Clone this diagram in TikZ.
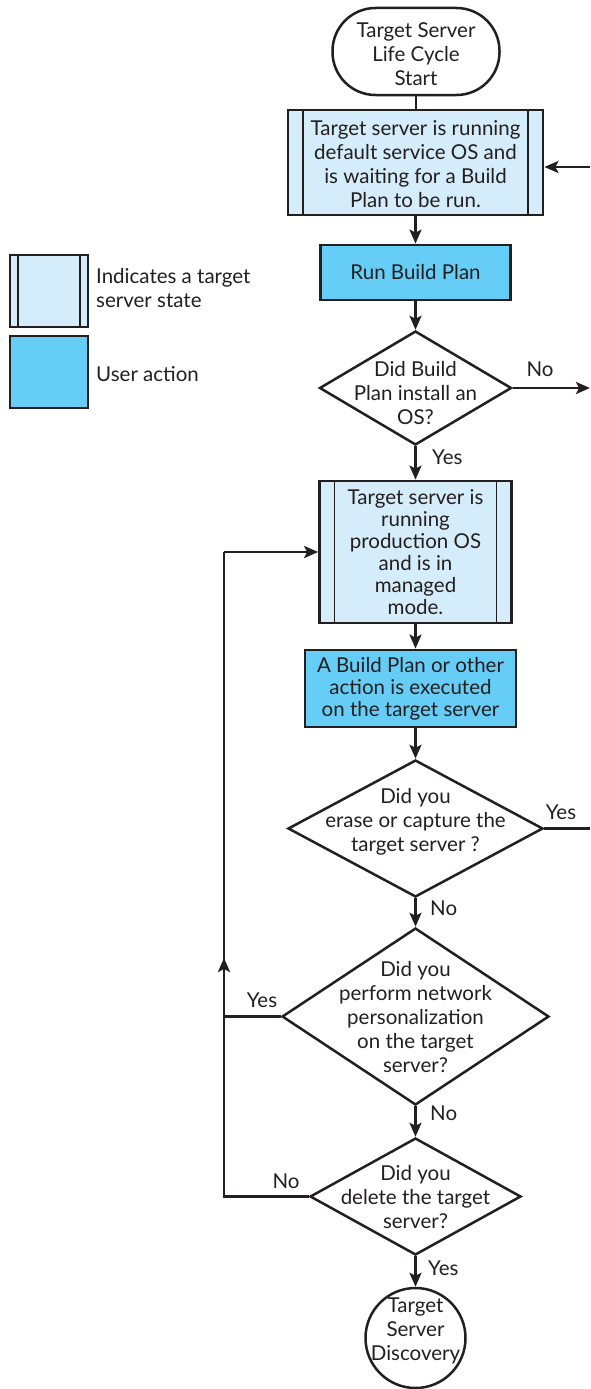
\documentclass[tikz,border=0pt]{standalone}
\usepackage{fontspec}
\setmainfont{Lato}
\usetikzlibrary{arrows.meta,shapes.geometric}
\definecolor{statefill}{HTML}{D5ECFA}
\definecolor{actionfill}{HTML}{66CDF6}
\definecolor{ink}{HTML}{231F20}
\begin{document}
\begin{tikzpicture}[x=1pt,y=-1pt,
  every node/.style={text=ink, font=\fontsize{20.5}{24}\selectfont, inner sep=0pt},
  line/.style={draw=ink, line width=2.5pt},
  arrow/.style={line, -{Stealth[length=14pt,width=12pt,inset=3pt]}},
  terminal/.style={draw=ink, line width=2.5pt, rounded corners=43pt, align=center},
  state/.style={draw=ink, line width=2.8pt, fill=statefill, align=center,
    path picture={\draw[ink, line width=1.3pt]
      ([xshift=#1]path picture bounding box.north west) -- ([xshift=#1]path picture bounding box.south west)
      ([xshift=-#1]path picture bounding box.north east) -- ([xshift=-#1]path picture bounding box.south east);}},
  state/.default=15pt,
  action/.style={draw=ink, line width=2.8pt, fill=actionfill, align=center},
  decision/.style={draw=ink, line width=2.5pt, diamond, inner sep=0pt, shape aspect=1},
  lbl/.style={anchor=west},
  txt/.style={align=center}
]
\useasboundingbox (0,0) rectangle (590,1389);

% legend
\node[state=8pt, minimum width=78pt, minimum height=72pt] (legstate) at (49,291) {};
\node[txt, align=left, anchor=west] (legstatetxt) at (96,288) {Indicates a target\\server state};
\node[action, minimum width=78pt, minimum height=72pt] (legaction) at (49,372) {};
\node[anchor=west] (legactiontxt) at (96,374) {User action};

% start
\node[terminal, minimum width=167pt, minimum height=87pt] (start) at (416,51.5) {};
\node[txt] (starttxt) at (416,54) {Target Server\\Life Cycle\\Start};

% box 1
\node[state, minimum width=255pt, minimum height=105pt] (b1) at (415.5,162.5) {};
\node[txt] (b1txt) at (415.5,164) {Target server is running\\default service OS and\\is waiting for a Build\\Plan to be run.};

% run build plan
\node[action, minimum width=190pt, minimum height=55pt] (run) at (415.5,272.5) {};
\node (runtxt) at (415.5,272) {Run Build Plan};

% decision 1
\node[decision, minimum width=192pt, minimum height=114pt] (d1) at (415.5,388) {};
\node[txt] (d1txt) at (415.5,393) {Did Build\\Plan install an\\OS?};

% box 2
\node[state, minimum width=192pt, minimum height=142pt] (b2) at (415.5,552) {};
\node[txt, font=\fontsize{20.5}{22}\selectfont] (b2txt) at (415.5,552) {Target server is\\running\\production OS\\and is in\\managed\\mode.};

% box 3
\node[action, minimum width=211pt, minimum height=77pt] (b3) at (410.5,688.5) {};
\node[txt, font=\fontsize{20.5}{22}\selectfont] (b3txt) at (410.5,689) {A Build Plan or other\\action is executed\\on the target server};

% decision 2
\node[decision, minimum width=255pt, minimum height=137pt] (d2) at (415.5,828.5) {};
\node[txt] (d2txt) at (415.5,822) {Did you\\erase or capture the\\target server ?};

% decision 3
\node[decision, minimum width=267pt, minimum height=177pt] (d3) at (415.5,1016.5) {};
\node[txt] (d3txt) at (415.5,1017) {Did you\\perform network\\personalization\\on the target\\server?};

% decision 4
\node[decision, minimum width=211pt, minimum height=117pt] (d4) at (415.5,1196.5) {};
\node[txt] (d4txt) at (415.5,1197) {Did you\\delete the target\\server?};

% end
\node[circle, draw=ink, line width=2.5pt, minimum size=100pt] (end) at (415.5,1338) {};
\node[txt] (endtxt) at (415.5,1331) {Target\\Server\\Discovery};

% free ends
\coordinate (in1) at (590,167);
\coordinate (out1) at (590,388);
\coordinate (out2) at (590,828.5);
\coordinate (loopd3) at (224,1016.5);
\coordinate (loopbot) at (224,1196.5);
\coordinate (loopmid) at (224,958);
\coordinate (looptop) at (224,552);

% connectors
\draw[line] (start) -- (b1.north -| start);
\draw[arrow] (in1) -- (b1.east |- in1);
\draw[arrow] (b1) -- (run);
\draw[arrow] (run) -- (d1.north);
\draw[arrow] (d1.east) -- (out1);
\draw[arrow] (d1.south) -- (b2.north);
\draw[arrow] (b2) -- (b3.north -| b2);
\draw[arrow] (d2.north |- b3.south) -- (d2.north);
\draw[line] (d2.east) -- (out2);
\draw[arrow] (d2.south) -- (d3.north);
\draw[arrow] (d3.south) -- (d4.north);
\draw[arrow] (d4.south) -- (end);
\draw[line] (d3.west) -- (loopd3);
\draw[line] (d4.west) -- (loopbot) -- (looptop);
\draw[arrow] (loopbot) -- (loopmid);
\draw[arrow] (looptop) -- (b2.west);

% labels
\node (lno1) at (540,369) {No};
\node[lbl] (lyes1) at (432,457) {Yes};
\node (lyes2) at (561,812) {Yes};
\node[lbl] (lno2) at (430,908) {No};
\node (lyes3) at (262,1000) {Yes};
\node[lbl] (lno3) at (430,1113) {No};
\node (lno4) at (286,1181) {No};
\node[lbl] (lyes4) at (428,1268) {Yes};
\end{tikzpicture}
\end{document}
